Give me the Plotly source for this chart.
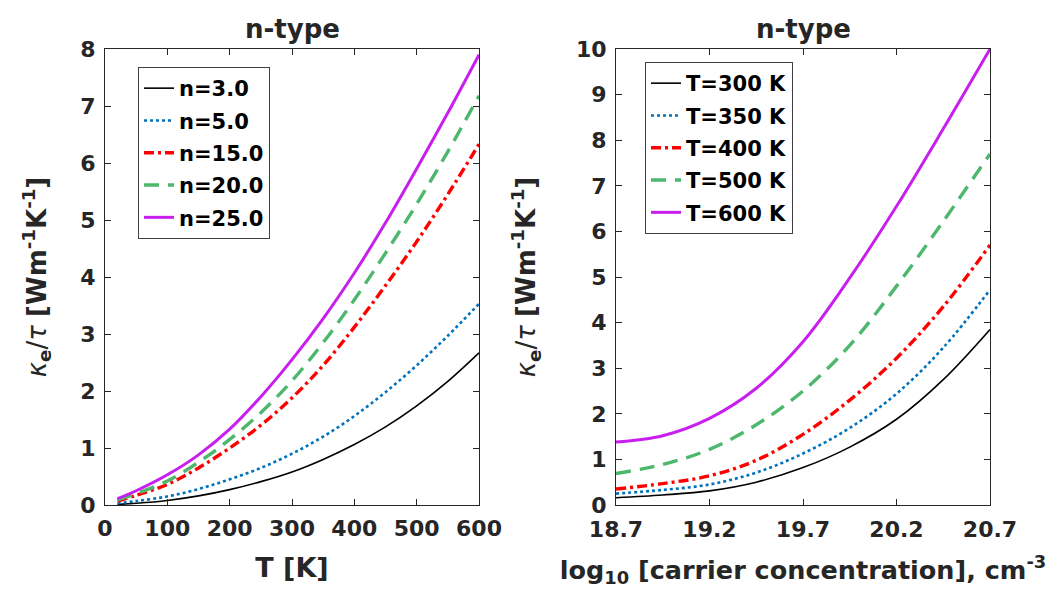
import plotly.graph_objects as go

# ---------------- data ----------------
T_K = [20, 50, 100, 150, 200, 250, 300, 350, 400, 450, 500, 550, 600]
left_labels = ["n=3.0", "n=5.0", "n=15.0", "n=20.0", "n=25.0"]
n3 = [0.01, 0.03, 0.08, 0.16, 0.27, 0.41, 0.58, 0.80, 1.06, 1.37, 1.74, 2.17, 2.67]
n5 = [0.03, 0.07, 0.15, 0.28, 0.45, 0.65, 0.90, 1.20, 1.56, 1.98, 2.45, 2.97, 3.53]
n15 = [0.07, 0.17, 0.36, 0.65, 1.00, 1.40, 1.88, 2.45, 3.12, 3.85, 4.62, 5.45, 6.33]
n20 = [0.09, 0.20, 0.42, 0.75, 1.15, 1.62, 2.18, 2.85, 3.60, 4.42, 5.28, 6.20, 7.18]
n25 = [0.11, 0.25, 0.53, 0.88, 1.33, 1.90, 2.55, 3.27, 4.07, 4.95, 5.90, 6.88, 7.90]

logn = [18.7, 18.95, 19.2, 19.45, 19.7, 19.95, 20.2, 20.45, 20.7]
right_labels = ["T=300 K", "T=350 K", "T=400 K", "T=500 K", "T=600 K"]
t300 = [0.16, 0.22, 0.31, 0.50, 0.82, 1.27, 1.88, 2.75, 3.85]
t350 = [0.25, 0.33, 0.45, 0.71, 1.13, 1.69, 2.44, 3.45, 4.72]
t400 = [0.35, 0.47, 0.64, 0.98, 1.55, 2.30, 3.22, 4.35, 5.70]
t500 = [0.69, 0.89, 1.22, 1.76, 2.50, 3.50, 4.80, 6.22, 7.70]
t600 = [1.38, 1.52, 1.90, 2.56, 3.58, 4.98, 6.55, 8.25, 10.00]

x_ticks_right = [18.7, 19.2, 19.7, 20.2, 20.7]

# ---------------- styles ----------------
colors = ["#000000", "#0072BD", "#FF0000", "#4DB86D", "#C81FEF"]
dashes = ["solid", "dot", "10px,4px,3px,4px", "15px,9px", "solid"]
widths = [1.6, 2.6, 3.4, 3.4, 3.0]
FONT = "DejaVu Sans, Arial, sans-serif"
TXT = "#262626"

fig = go.Figure()
for i, (lab, ys, c, d, w) in enumerate(zip(left_labels, [n3, n5, n15, n20, n25], colors, dashes, widths)):
    fig.add_trace(go.Scatter(x=T_K, y=ys, mode="lines", name=lab, legendgroup=f"L{i}",
                             line=dict(color=c, dash=d, width=w, shape="spline", smoothing=1.0),
                             xaxis="x", yaxis="y", legend="legend"))
for i, (lab, ys, c, d, w) in enumerate(zip(right_labels, [t300, t350, t400, t500, t600], colors, dashes, widths)):
    fig.add_trace(go.Scatter(x=logn, y=ys, mode="lines", name=lab, legendgroup=f"R{i}",
                             line=dict(color=c, dash=d, width=w, shape="spline", smoothing=1.0),
                             xaxis="x2", yaxis="y2", legend="legend2"))

ydom = [(596 - 497) / 596, (596 - 41) / 596]
axcommon = dict(showline=True, linecolor=TXT, linewidth=1.2, mirror="ticks", ticks="inside",
                ticklen=6, tickcolor=TXT, showgrid=False, zeroline=False,
                tickfont=dict(family=FONT, size=22, color=TXT, weight="bold"),
                automargin=False)
ytitle = "<i>κ</i><b><sub>e</sub></b>/<i>τ</i> <b>[Wm<sup>-1</sup>K<sup>-1</sup>]</b>"
YFONT = dict(family=FONT, size=26, color=TXT)
XFONT = dict(family=FONT, size=27, color=TXT)
X2FONT = dict(family=FONT, size=25.5, color=TXT)
LFONT = dict(family=FONT, size=21, color="#000000", weight="bold")

fig.update_layout(
    width=1060, height=596,
    margin=dict(l=0, r=0, t=0, b=0),
    paper_bgcolor="white", plot_bgcolor="white",
    font=dict(family=FONT, color=TXT),
    xaxis=dict(domain=[97 / 1060, 471 / 1060], range=[0, 600], tickvals=[0, 100, 200, 300, 400, 500, 600],
               title=dict(text="<b>T [K]</b>", font=XFONT, standoff=18),
               ticklabelstandoff=3, anchor="y", **axcommon),
    yaxis=dict(domain=ydom, range=[0, 8], dtick=1,
               title=dict(text=ytitle, font=YFONT, standoff=26),
               ticklabelstandoff=4, anchor="x", **axcommon),
    xaxis2=dict(domain=[608 / 1060, 982 / 1060], range=[18.7, 20.7], tickvals=x_ticks_right,
                ticktext=[f"{v:.1f}" for v in x_ticks_right],
                title=dict(text="<b>log<sub>10</sub> [carrier concentration], cm<sup>-3</sup></b>",
                           font=X2FONT, standoff=20),
                ticklabelstandoff=4, anchor="y2", **axcommon),
    yaxis2=dict(domain=ydom, range=[0, 10], dtick=1,
                title=dict(text=ytitle, font=YFONT, standoff=32),
                ticklabelstandoff=4, anchor="x2", **axcommon),
    legend=dict(x=130 / 1060, y=(596 - 59) / 596, xanchor="left", yanchor="top",
                bgcolor="white", bordercolor="#404040", borderwidth=1,
                font=LFONT, itemwidth=30, tracegroupgap=2),
    legend2=dict(x=637 / 1060, y=(596 - 54) / 596, xanchor="left", yanchor="top",
                 bgcolor="white", bordercolor="#404040", borderwidth=1,
                 font=LFONT, itemwidth=30, tracegroupgap=2),
    showlegend=True,
)

for xc in [(97 + 471) / 2, (608 + 982) / 2]:
    fig.add_annotation(x=xc / 1060, y=(596 - 21) / 596, xref="paper", yref="paper",
                       text="<b>n-type</b>", showarrow=False,
                       font=dict(family=FONT, size=26, color=TXT),
                       xanchor="center", yanchor="middle")

fig.write_html("out.html")
